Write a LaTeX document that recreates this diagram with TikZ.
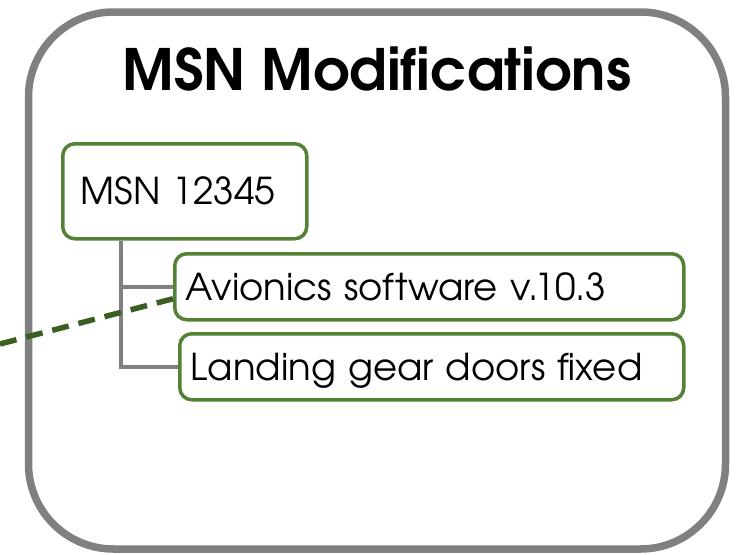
\documentclass[tikz,border=0pt]{standalone}
\usepackage{fontspec}
\setmainfont{texgyreadventor}[Extension=.otf, UprightFont=*-regular, BoldFont=*-bold]
\definecolor{frameGray}{HTML}{808080}
\definecolor{boxGreen}{HTML}{548235}
\definecolor{dashGreen}{HTML}{3B5E22}
\begin{document}
\begin{tikzpicture}[x=1pt,y=-1pt,
  frame/.style={draw=frameGray, line width=7.5pt, rounded corners=85pt, minimum width=697pt, minimum height=537pt, inner sep=0pt},
  titletext/.style={font=\fontsize{57}{60}\selectfont\bfseries, inner sep=0pt},
  itembox/.style={draw=boxGreen, line width=3.5pt, rounded corners=12pt, fill=white, anchor=north west, align=left, font=\fontsize{37}{40}\selectfont, text height=27pt, text depth=0pt, inner ysep=0pt},
  conn/.style={draw=frameGray, line width=3.5pt},
  link/.style={draw=dashGreen, line width=5.5pt, dash pattern=on 17pt off 10pt}
]
\useasboundingbox (0,0) rectangle (740,555);
\node[frame] (frame) at (377,280.5) {};
\node[titletext, anchor=base] (title) at (377,90) {MSN Modifications};
\node[itembox, inner xsep=18pt, text width=208pt, minimum height=95pt] (box1) at (61,142) {MSN 12345};
\node[itembox, inner xsep=11pt, text width=487pt, minimum height=66pt] (box2) at (173,252) {Avionics software v.10.3};
\node[itembox, inner xsep=11pt, text width=482pt, minimum height=66pt] (box3) at (178,332) {Landing gear doors fixed};
\coordinate (trunk) at ([xshift=60pt]box1.south west);
\draw[conn] (trunk) |- (box3.west);
\draw[conn] (box2.west) -- (trunk |- box2.west);
\coordinate (linkstart) at (0,344);
\draw[link] (linkstart) -- ([yshift=-12pt]box2.west);
\end{tikzpicture}
\end{document}
